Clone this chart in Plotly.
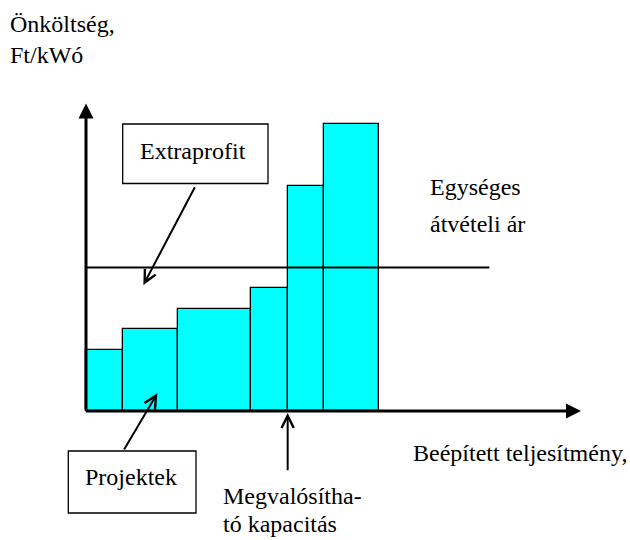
import numpy as np
import plotly.graph_objects as go

# Projects ordered by unit cost: installed capacity (bar width) and unit cost (bar height)
project_capacity = [2, 3, 4, 2, 2, 3]
project_cost = [3, 4, 5, 6, 11, 14]
feed_in_price = 7          # uniform feed-in tariff
price_line_end = 22        # how far the tariff line runs along the capacity axis
feasible_capacity = 11     # capacity where project cost rises above the tariff
x_axis_end = 27
y_axis_end = 15

# Canvas and scale: origin position and pixels per unit on each axis
W, H = 630, 540
X0, Y0 = 86, 411
UX, UY = 18.333, 20.5

FONT = dict(family="Liberation Serif", size=24, color="black")


def px(x):
    return x / W


def py(y):
    return 1 - y / H


edges = np.concatenate([[0], np.cumsum(project_capacity)])
centers = (edges[:-1] + edges[1:]) / 2

fig = go.Figure()
fig.add_trace(go.Bar(
    x=centers, y=project_cost, width=project_capacity, base=0,
    marker=dict(color="#00FFFF", line=dict(color="black", width=1.3)),
    hoverinfo="skip",
))

# Uniform tariff line, drawn over the bars
fig.add_trace(go.Scatter(
    x=[0, price_line_end], y=[feed_in_price, feed_in_price], mode="lines",
    line=dict(color="black", width=2.2), hoverinfo="skip",
))

annotations = []

# Axes as arrows
for tip, tail in [((x_axis_end, 0), (-0.1, 0)), ((0, y_axis_end), (0, 0))]:
    annotations.append(dict(
        x=tip[0], y=tip[1], ax=tail[0], ay=tail[1], xref="x", yref="y",
        axref="x", ayref="y", showarrow=True, arrowhead=2, arrowsize=1.0,
        arrowwidth=3, arrowcolor="black", text="", standoff=0,
    ))

# Pointer arrows
pointer_arrows = [
    # Extraprofit box -> area between tariff and costs
    ((3.13, 6.15), (5.98, 10.99)),
    # Projektek box -> bars
    ((3.89, 0.86), (2.03, -1.95)),
    # Feasible capacity marker
    ((feasible_capacity, -0.1), (feasible_capacity, -2.96)),
]
for tip, tail in pointer_arrows:
    annotations.append(dict(
        x=tip[0], y=tip[1], ax=tail[0], ay=tail[1], xref="x", yref="y",
        axref="x", ayref="y", showarrow=True, arrowhead=5, arrowsize=1.2,
        arrowwidth=2, arrowcolor="black", text="", standoff=0,
    ))


def label(text, x, baseline, anchor="left"):
    annotations.append(dict(
        text=text, x=px(x), y=py(baseline - 8.1), xref="paper", yref="paper",
        xanchor=anchor, yanchor="middle", showarrow=False, font=FONT,
        borderpad=0, borderwidth=0,
    ))


label("Önköltség,", 10, 32.3)
label("Ft/kWó", 10, 63.3)
label("Extraprofit", 192.5, 159.3, "center")
label("Egységes", 430, 195)
label("átvételi ár", 430, 231.7)
label("Projektek", 131.2, 485, "center")
label("Megvalósítha-", 222.5, 504)
label("tó kapacitás", 222.5, 531.7)
label("Beépített teljesítmény,", 413.3, 461)

# Frames around the two callout labels
shapes = [
    dict(type="rect", xref="paper", yref="paper",
         x0=px(122.7), x1=px(268), y0=py(183.5), y1=py(124),
         line=dict(color="black", width=1.3), fillcolor="white", layer="below"),
    dict(type="rect", xref="paper", yref="paper",
         x0=px(68.3), x1=px(196), y0=py(513), y1=py(451),
         line=dict(color="black", width=1.3), fillcolor="white", layer="below"),
]

fig.update_layout(
    width=W, height=H, margin=dict(l=0, r=0, t=0, b=0, pad=0),
    paper_bgcolor="white", plot_bgcolor="white", showlegend=False,
    font=FONT,
    xaxis=dict(visible=False, range=[-X0 / UX, (W - X0) / UX], fixedrange=True),
    yaxis=dict(visible=False, range=[-(H - Y0) / UY, Y0 / UY], fixedrange=True),
    annotations=annotations, shapes=shapes, bargap=0,
)

fig.write_html("out.html", config=dict(displayModeBar=False))
